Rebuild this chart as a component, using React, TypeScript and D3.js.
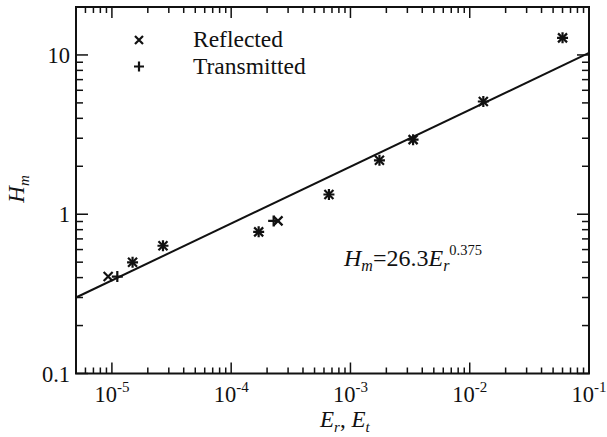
import React from "react";
import * as d3 from "d3";

// Reflected / transmitted wave heights
const reflectedE = [9.3e-6, 1.49e-5, 2.68e-5, 1.7e-4, 2.47e-4, 6.6e-4, 1.75e-3, 3.35e-3, 1.3e-2, 6.0e-2];
const reflectedH = [0.406, 0.499, 0.634, 0.775, 0.908, 1.33, 2.18, 2.94, 5.1, 12.8];
const transmittedE = [1.11e-5, 1.49e-5, 2.68e-5, 1.7e-4, 2.27e-4, 6.6e-4, 1.75e-3, 3.35e-3, 1.3e-2, 6.0e-2];
const transmittedH = [0.406, 0.499, 0.634, 0.775, 0.908, 1.33, 2.18, 2.94, 5.1, 12.8];

// Fitted line end points
const fitE = [5e-6, 0.1];
const fitH = [0.3, 10.3];

// Axis ticks
const xMajor = [1e-5, 1e-4, 1e-3, 1e-2, 1e-1];
const xMajorExp = ["-5", "-4", "-3", "-2", "-1"];
const yMajor = [0.1, 1, 10];
const yMajorLabels = ["0.1", "1", "10"];

const W = 607;
const H = 437;
const left = 76;
const right = 589;
const top = 7;
const bottom = 373.5;

const FONT = '"Liberation Serif", "DejaVu Serif", serif';

const App = () => {
  const x = d3.scaleLog().domain([5e-6, 0.1]).range([left, right]);
  const y = d3.scaleLog().domain([0.1, 20]).range([bottom, top]);

  // minor ticks 2..9 of every decade inside the domain
  const xMinor = x.ticks().filter((t) => !xMajor.some((m) => Math.abs(m - t) / m < 1e-6));
  const yMinor = y.ticks().filter((t) => !yMajor.some((m) => Math.abs(m - t) / m < 1e-6));

  const line = d3
    .line<number>()
    .x((d, i) => x(fitE[i]))
    .y((d) => y(d));

  const cross = (cx: number, cy: number, r: number, key: string) => (
    <path
      key={key}
      d={`M${cx - r},${cy - r}L${cx + r},${cy + r}M${cx - r},${cy + r}L${cx + r},${cy - r}`}
      stroke="#111"
      strokeWidth={2.2}
    />
  );
  const plus = (cx: number, cy: number, r: number, key: string) => (
    <path
      key={key}
      d={`M${cx - r},${cy}L${cx + r},${cy}M${cx},${cy - r}L${cx},${cy + r}`}
      stroke="#111"
      strokeWidth={2.2}
    />
  );

  const tickStroke = { stroke: "#111", strokeWidth: 1.5 };

  return (
    <div style={{ position: "fixed", left: 0, top: 0 }}>
      <svg width={W} height={H} style={{ display: "block", background: "#fff", fontFamily: FONT }}>
        {/* x ticks, bottom and top, pointing inward */}
        {xMajor.map((t) => (
          <g key={"xM" + t}>
            <line x1={x(t)} x2={x(t)} y1={bottom} y2={bottom - 11} {...tickStroke} />
            <line x1={x(t)} x2={x(t)} y1={top} y2={top + 11} {...tickStroke} />
          </g>
        ))}
        {xMinor.map((t) => (
          <g key={"xm" + t}>
            <line x1={x(t)} x2={x(t)} y1={bottom} y2={bottom - 6} {...tickStroke} />
            <line x1={x(t)} x2={x(t)} y1={top} y2={top + 6} {...tickStroke} />
          </g>
        ))}
        {/* y ticks, left and right */}
        {yMajor.map((t) => (
          <g key={"yM" + t}>
            <line x1={left} x2={left + 12} y1={y(t)} y2={y(t)} {...tickStroke} />
            <line x1={right} x2={right - 12} y1={y(t)} y2={y(t)} {...tickStroke} />
          </g>
        ))}
        {yMinor.map((t) => (
          <g key={"ym" + t}>
            <line x1={left} x2={left + 7} y1={y(t)} y2={y(t)} {...tickStroke} />
            <line x1={right} x2={right - 7} y1={y(t)} y2={y(t)} {...tickStroke} />
          </g>
        ))}

        {/* frame */}
        <rect x={left} y={top} width={right - left} height={bottom - top} fill="none" stroke="#111" strokeWidth={2} />

        {/* x tick labels */}
        {xMajor.map((t, i) => (
          <text key={"xl" + t} x={x(t)} y={402} textAnchor="middle" fontSize={22.5} fill="#111">
            10
            <tspan fontSize={15} dy={-10}>
              {xMajorExp[i]}
            </tspan>
          </text>
        ))}
        {/* y tick labels */}
        {yMajor.map((t, i) => (
          <text key={"yl" + t} x={70} y={y(t) + 8} textAnchor="end" fontSize={22.5} fill="#111">
            {yMajorLabels[i]}
          </text>
        ))}

        {/* axis titles */}
        <text x={320} y={427} fontSize={23} fill="#111">
          <tspan fontStyle="italic">E</tspan>
          <tspan fontStyle="italic" fontSize={15} dy={5}>r</tspan>
          <tspan dy={-5}>, </tspan>
          <tspan fontStyle="italic">E</tspan>
          <tspan fontStyle="italic" fontSize={15} dy={5}>t</tspan>
        </text>
        <text transform="translate(24,189) rotate(-90)" textAnchor="middle" fontSize={23} fill="#111">
          <tspan fontStyle="italic">H</tspan>
          <tspan fontStyle="italic" fontSize={15} dy={5}>m</tspan>
        </text>

        {/* fitted line */}
        <path d={line(fitH) || ""} fill="none" stroke="#111" strokeWidth={2} />

        {/* data markers */}
        {reflectedE.map((e, i) => cross(x(e), y(reflectedH[i]), 4.5, "r" + i))}
        {transmittedE.map((e, i) => plus(x(e), y(transmittedH[i]), 5.5, "t" + i))}

        {/* legend */}
        {cross(139, 40, 4, "lr")}
        {plus(139, 66.5, 5, "lt")}
        <text x={193} y={47} fontSize={23.5} fill="#111">Reflected</text>
        <text x={193} y={73.5} fontSize={23.5} fill="#111">Transmitted</text>

        {/* fit equation */}
        <text x={344} y={266} fontSize={24} fill="#111">
          <tspan fontStyle="italic">H</tspan>
          <tspan fontStyle="italic" fontSize={16} dy={5}>m</tspan>
          <tspan dy={-5}>=26.3</tspan>
          <tspan fontStyle="italic">E</tspan>
          <tspan fontStyle="italic" fontSize={16} dy={5}>r</tspan>
          <tspan fontSize={14.5} dy={-16}>0.375</tspan>
        </text>
      </svg>
    </div>
  );
};

export default App;
